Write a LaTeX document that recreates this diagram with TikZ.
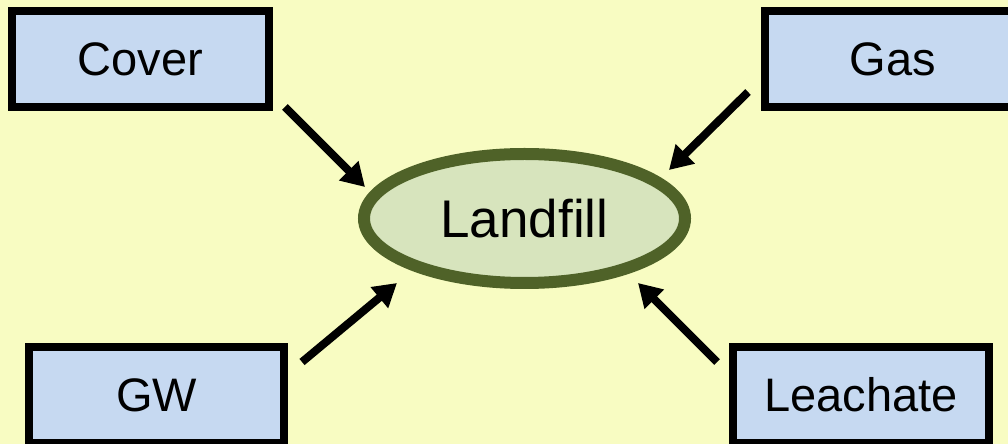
\documentclass[tikz,border=0pt]{standalone}
\usepackage{fontspec}
\setmainfont{Liberation Sans}
\usetikzlibrary{shapes.geometric,arrows.meta}

\definecolor{paper}{HTML}{F8FCC2}
\definecolor{boxblue}{HTML}{C6D9F1}
\definecolor{hubfill}{HTML}{D7E4BD}
\definecolor{hubline}{HTML}{4F6228}

\begin{document}
\begin{tikzpicture}[x=1bp,y=-1bp,
  item/.style={draw=black, line width=8bp, fill=boxblue,
    minimum width=256bp, minimum height=96bp, inner sep=0pt,
    font=\fontsize{47bp}{56bp}\selectfont},
  hub/.style={ellipse, draw=hubline, line width=12bp, fill=hubfill,
    minimum width=321bp, minimum height=129bp, inner sep=0pt,
    font=\fontsize{53bp}{64bp}\selectfont},
  feed/.style={line width=8bp, -{Triangle[length=23bp,width=26bp]}}]

% page background
\fill[paper] (0,0) rectangle (1008,444);
\useasboundingbox (0,0) rectangle (1008,444);
\clip (0,0) rectangle (1008,444);

% the four inputs and the landfill
\node[item, minimum width=257bp] (cover) at (140.5,59) {Cover\hspace{12bp}};
\node[item] (gas) at (893,59) {Gas};
\node[item, minimum width=255bp] (gw) at (156.5,395) {GW};
\node[item] (leachate) at (861,395) {Leachate};
\node[hub] (landfill) at (524.5,218.5) {Landfill};

% arrow ends
\coordinate (covertail) at (285,107);
\coordinate (covertip) at (365,187);
\coordinate (gastail) at (748,92);
\coordinate (gastip) at (669,170);
\coordinate (gwtail) at (302,362);
\coordinate (gwtip) at (397,283);
\coordinate (leachtail) at (717,362);
\coordinate (leachtip) at (638,283);

% flows into the landfill
\draw[feed] (covertail) -- (covertip);
\draw[feed] (gastail) -- (gastip);
\draw[feed] (gwtail) -- (gwtip);
\draw[feed] (leachtail) -- (leachtip);
\end{tikzpicture}
\end{document}
